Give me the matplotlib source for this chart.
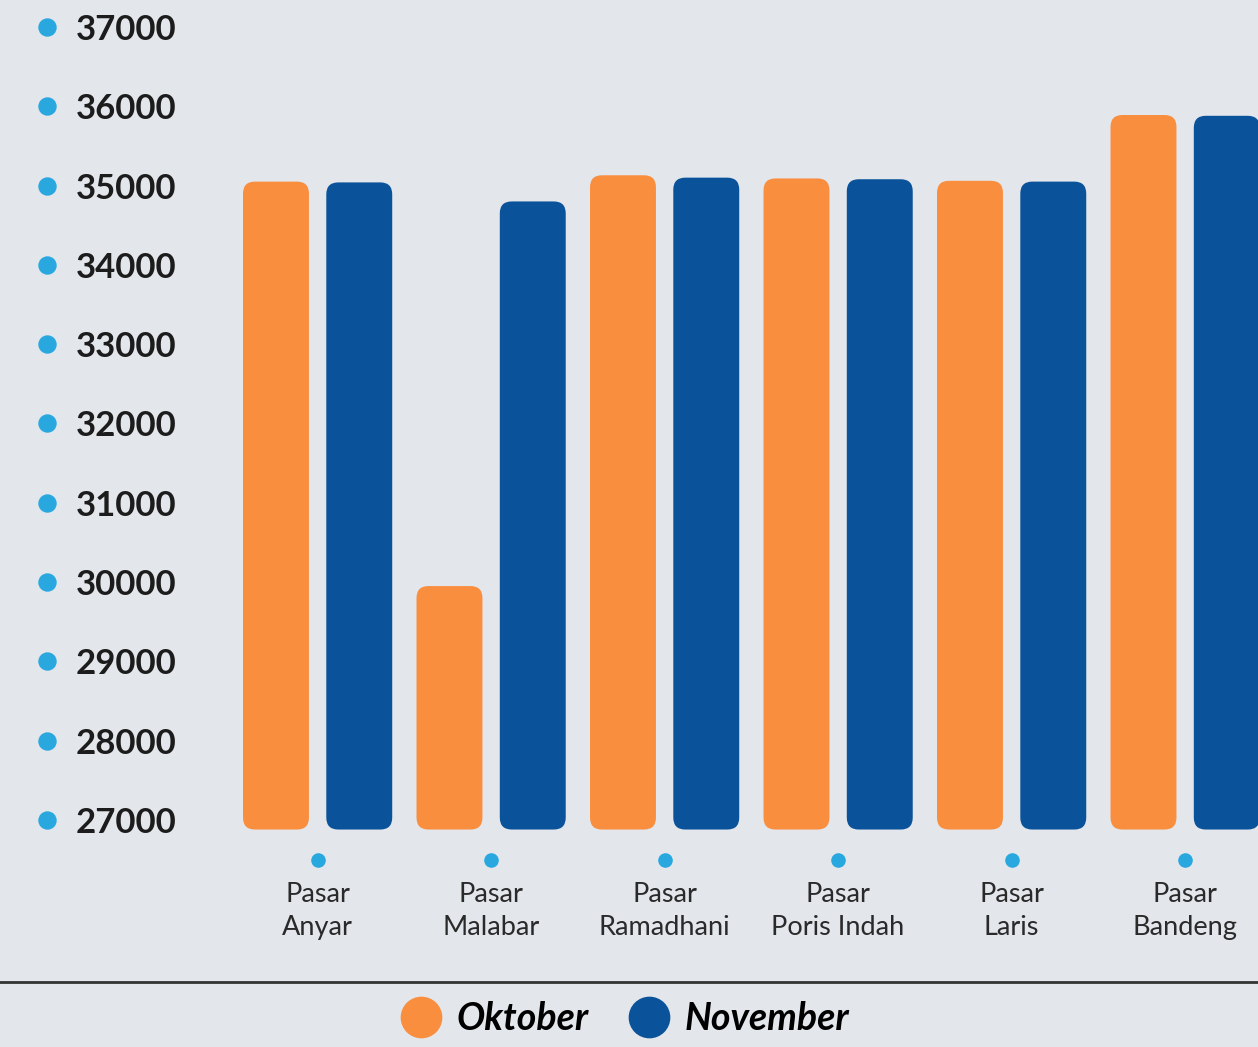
import numpy as np
import matplotlib
matplotlib.use('Agg')
import matplotlib.pyplot as plt
from matplotlib.patches import FancyBboxPatch
from matplotlib.lines import Line2D
from matplotlib.transforms import blended_transform_factory

# data
markets = ['Pasar\nAnyar', 'Pasar\nMalabar', 'Pasar\nRamadhani', 'Pasar\nPoris Indah', 'Pasar\nLaris', 'Pasar\nBandeng']
oktober = [35050, 29950, 35130, 35090, 35060, 35890]
november = [35040, 34800, 35100, 35080, 35050, 35880]
y_ticks = [27000, 28000, 29000, 30000, 31000, 32000, 33000, 34000, 35000, 36000, 37000]
series_names = ['Oktober', 'November']

orange = '#F98E3F'
blue = '#0A5299'
dot_blue = '#29A8E0'
bg = '#E3E6EB'
base = 26880

plt.rcParams['font.family'] = ['Lato', 'DejaVu Sans']

W, H = 1258, 1047
fig = plt.figure(figsize=(W / 100, H / 100), dpi=100, facecolor=bg)
ax = fig.add_axes([230 / W, 1 - 840 / H, 1 - 230 / W, 830 / H])
ax.set_facecolor(bg)
ax.set_xlim(-0.505, 5.42)
ax.set_ylim(26748, 37214)

x = np.arange(len(markets))
bw = 0.38
off = 0.24
rx = 0.069
aspect = 151 / rx

# rounded bars
for i in range(len(markets)):
    for val, dx, col in [(oktober[i], -off, orange), (november[i], off, blue)]:
        p = FancyBboxPatch((x[i] + dx - bw / 2, base), bw, val - base,
                           boxstyle='round,pad=0,rounding_size=%f' % rx,
                           mutation_aspect=aspect, facecolor=col, edgecolor='none')
        ax.add_patch(p)

for s in ax.spines.values():
    s.set_visible(False)

# y axis labels with dots
ax.set_yticks(y_ticks)
ax.set_yticklabels([str(v) for v in y_ticks], fontsize=25, fontweight='bold', color='#1c1c1c')
for lab in ax.get_yticklabels():
    lab.set_horizontalalignment('left')
ax.tick_params(axis='y', length=0, pad=111)
ty = blended_transform_factory(fig.transFigure, ax.transData)
ax.scatter([47 / W] * len(y_ticks), y_ticks, s=150, color=dot_blue, transform=ty, clip_on=False, zorder=3)

# x axis labels with dots
ax.set_xticks(x)
ax.set_xticklabels(markets, fontsize=19.5, color='#2a2a2a', linespacing=1.42)
ax.tick_params(axis='x', length=0, pad=30)
tx = blended_transform_factory(ax.transData, fig.transFigure)
ax.scatter(x, [1 - 860 / H] * len(x), s=90, color=dot_blue, transform=tx, clip_on=False, zorder=3)

# separator
fig.add_artist(Line2D([0, 1], [1 - 982 / H, 1 - 982 / H], transform=fig.transFigure, color='#333333', lw=2))

# legend
handles = [Line2D([], [], marker='o', ls='none', markersize=29, color=c) for c in (orange, blue)]
leg = fig.legend(handles, series_names, loc='center', bbox_to_anchor=(620 / W, 1 - 1019 / H), ncol=2,
                 frameon=False, handletextpad=0.15, columnspacing=0.8, handlelength=1.6,
                 prop={'size': 27, 'weight': 'bold', 'style': 'italic'})

fig.savefig('out.png', dpi=100, facecolor=bg)
